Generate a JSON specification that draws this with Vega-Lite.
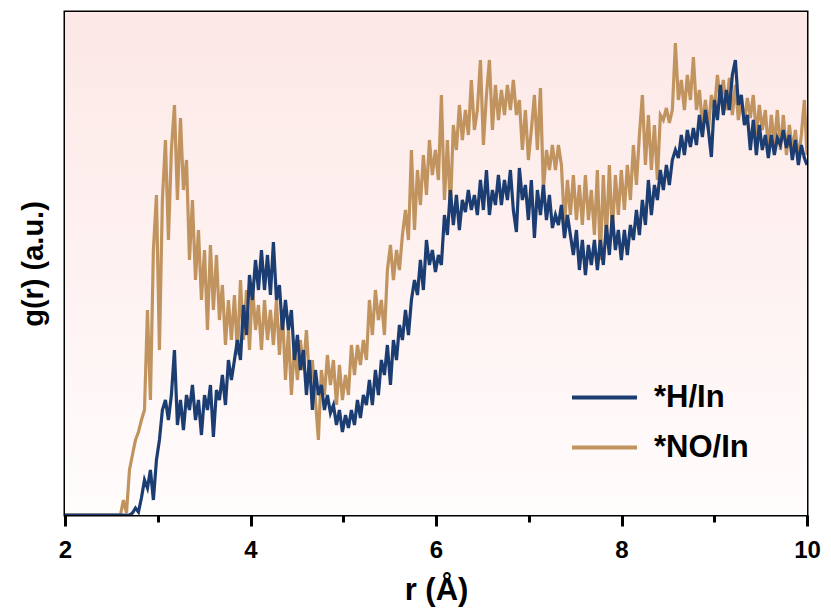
{
"$schema": "https://vega.github.io/schema/vega-lite/v6.json",
"autosize": "none",
"width": 742,
"height": 503,
"padding": {"left": 65, "top": 12, "right": 24, "bottom": 99},
"background": "white",
"config": {"view": {"stroke": "black", "strokeWidth": 3}, "font": "Liberation Sans"},
"data": {"values": [
{"r":2.0,"h":0,"n":0},
{"r":2.598,"h":0,"n":0},{"r":2.630,"h":0,"n":15},{"r":2.663,"h":0,"n":2},{"r":2.695,"h":0,"n":45},{"r":2.727,"h":2,"n":60},{"r":2.760,"h":7,"n":75},{"r":2.792,"h":3,"n":83},{"r":2.824,"h":17,"n":95},{"r":2.857,"h":35,"n":105},{"r":2.889,"h":27,"n":205},
{"r":2.921,"h":45,"n":115},{"r":2.953,"h":15,"n":265},{"r":2.986,"h":55,"n":320},{"r":3.018,"h":75,"n":165},{"r":3.050,"h":105,"n":315},{"r":3.083,"h":115,"n":375},{"r":3.115,"h":95,"n":275},{"r":3.147,"h":120,"n":365},{"r":3.180,"h":165,"n":410},{"r":3.212,"h":90,"n":315},
{"r":3.245,"h":115,"n":397},{"r":3.277,"h":85,"n":325},{"r":3.310,"h":120,"n":355},{"r":3.342,"h":105,"n":255},{"r":3.374,"h":130,"n":315},{"r":3.407,"h":95,"n":235},{"r":3.439,"h":115,"n":285},{"r":3.471,"h":80,"n":215},{"r":3.504,"h":120,"n":265},{"r":3.536,"h":105,"n":185},
{"r":3.568,"h":130,"n":270},{"r":3.600,"h":78,"n":205},{"r":3.633,"h":125,"n":260},{"r":3.665,"h":115,"n":195},{"r":3.697,"h":140,"n":230},{"r":3.730,"h":110,"n":170},{"r":3.762,"h":155,"n":215},{"r":3.794,"h":135,"n":175},{"r":3.827,"h":155,"n":220},{"r":3.859,"h":175,"n":160},
{"r":3.892,"h":155,"n":235},{"r":3.924,"h":210,"n":175},{"r":3.957,"h":180,"n":225},{"r":3.989,"h":240,"n":165},{"r":4.021,"h":215,"n":230},{"r":4.054,"h":255,"n":185},{"r":4.086,"h":225,"n":210},{"r":4.118,"h":265,"n":165},{"r":4.151,"h":225,"n":215},{"r":4.183,"h":260,"n":175},
{"r":4.215,"h":220,"n":205},{"r":4.247,"h":273,"n":170},{"r":4.280,"h":215,"n":215},{"r":4.312,"h":230,"n":160},{"r":4.344,"h":185,"n":205},{"r":4.377,"h":215,"n":135},{"r":4.409,"h":185,"n":185},{"r":4.441,"h":205,"n":120},{"r":4.474,"h":155,"n":170},{"r":4.506,"h":180,"n":135},
{"r":4.538,"h":145,"n":175},{"r":4.570,"h":165,"n":145},{"r":4.603,"h":120,"n":185},{"r":4.635,"h":155,"n":135},{"r":4.667,"h":105,"n":155},{"r":4.700,"h":145,"n":115},{"r":4.732,"h":120,"n":75},{"r":4.764,"h":130,"n":145},{"r":4.797,"h":105,"n":120},{"r":4.829,"h":120,"n":160},
{"r":4.862,"h":102,"n":130},{"r":4.894,"h":110,"n":155},{"r":4.927,"h":90,"n":110},{"r":4.959,"h":105,"n":150},{"r":4.991,"h":83,"n":115},{"r":5.024,"h":100,"n":140},{"r":5.056,"h":87,"n":120},{"r":5.088,"h":105,"n":170},{"r":5.121,"h":90,"n":140},{"r":5.153,"h":115,"n":170},
{"r":5.185,"h":97,"n":150},{"r":5.217,"h":120,"n":175},{"r":5.250,"h":110,"n":155},{"r":5.282,"h":135,"n":215},{"r":5.314,"h":110,"n":180},{"r":5.347,"h":145,"n":225},{"r":5.379,"h":120,"n":195},{"r":5.411,"h":155,"n":215},{"r":5.444,"h":140,"n":180},{"r":5.476,"h":170,"n":245},
{"r":5.509,"h":130,"n":270},{"r":5.541,"h":175,"n":235},{"r":5.574,"h":155,"n":265},{"r":5.606,"h":190,"n":245},{"r":5.638,"h":175,"n":280},{"r":5.671,"h":205,"n":305},{"r":5.703,"h":180,"n":275},{"r":5.735,"h":215,"n":365},{"r":5.768,"h":235,"n":285},{"r":5.800,"h":220,"n":345},
{"r":5.832,"h":255,"n":310},{"r":5.864,"h":225,"n":360},{"r":5.897,"h":275,"n":320},{"r":5.929,"h":250,"n":375},{"r":5.961,"h":265,"n":340},{"r":5.994,"h":243,"n":365},{"r":6.026,"h":260,"n":335},{"r":6.058,"h":250,"n":420},{"r":6.091,"h":300,"n":315},{"r":6.123,"h":280,"n":375},
{"r":6.155,"h":325,"n":305},{"r":6.187,"h":290,"n":390},{"r":6.220,"h":320,"n":365},{"r":6.252,"h":285,"n":410},{"r":6.284,"h":315,"n":375},{"r":6.317,"h":303,"n":405},{"r":6.349,"h":325,"n":380},{"r":6.381,"h":305,"n":435},{"r":6.414,"h":320,"n":385},{"r":6.446,"h":300,"n":405},
{"r":6.479,"h":335,"n":455},{"r":6.511,"h":305,"n":370},{"r":6.544,"h":345,"n":420},{"r":6.576,"h":300,"n":455},{"r":6.608,"h":325,"n":385},{"r":6.641,"h":310,"n":430},{"r":6.673,"h":340,"n":395},{"r":6.705,"h":310,"n":425},{"r":6.738,"h":335,"n":400},{"r":6.770,"h":315,"n":430},
{"r":6.802,"h":345,"n":405},{"r":6.834,"h":305,"n":435},{"r":6.867,"h":283,"n":400},{"r":6.899,"h":347,"n":415},{"r":6.931,"h":315,"n":365},{"r":6.964,"h":330,"n":405},{"r":6.996,"h":295,"n":355},{"r":7.028,"h":335,"n":385},{"r":7.061,"h":277,"n":420},{"r":7.093,"h":325,"n":365},
{"r":7.126,"h":300,"n":427},{"r":7.158,"h":330,"n":325},{"r":7.191,"h":295,"n":365},{"r":7.223,"h":320,"n":345},{"r":7.255,"h":287,"n":370},{"r":7.288,"h":300,"n":345},{"r":7.320,"h":290,"n":370},{"r":7.352,"h":310,"n":350},{"r":7.385,"h":277,"n":290},{"r":7.417,"h":300,"n":335},
{"r":7.449,"h":280,"n":300},{"r":7.481,"h":260,"n":340},{"r":7.514,"h":285,"n":295},{"r":7.546,"h":245,"n":330},{"r":7.578,"h":275,"n":290},{"r":7.611,"h":240,"n":340},{"r":7.643,"h":270,"n":295},{"r":7.675,"h":250,"n":325},{"r":7.708,"h":275,"n":280},{"r":7.740,"h":245,"n":345},
{"r":7.772,"h":275,"n":255},{"r":7.804,"h":250,"n":340},{"r":7.837,"h":290,"n":275},{"r":7.869,"h":260,"n":350},{"r":7.901,"h":300,"n":280},{"r":7.934,"h":265,"n":340},{"r":7.966,"h":285,"n":300},{"r":7.998,"h":255,"n":345},{"r":8.031,"h":285,"n":305},{"r":8.063,"h":260,"n":350},
{"r":8.096,"h":290,"n":315},{"r":8.128,"h":275,"n":370},{"r":8.161,"h":305,"n":330},{"r":8.193,"h":280,"n":380},{"r":8.225,"h":315,"n":420},{"r":8.258,"h":290,"n":350},{"r":8.290,"h":335,"n":400},{"r":8.322,"h":300,"n":345},{"r":8.355,"h":330,"n":390},{"r":8.387,"h":315,"n":335},
{"r":8.419,"h":345,"n":400},{"r":8.451,"h":325,"n":395},{"r":8.484,"h":350,"n":407},{"r":8.516,"h":330,"n":392},{"r":8.548,"h":355,"n":405},{"r":8.581,"h":365,"n":472},{"r":8.613,"h":357,"n":415},{"r":8.645,"h":380,"n":435},{"r":8.678,"h":360,"n":405},{"r":8.710,"h":385,"n":440},
{"r":8.743,"h":368,"n":415},{"r":8.775,"h":387,"n":458},{"r":8.808,"h":370,"n":405},{"r":8.840,"h":400,"n":425},{"r":8.872,"h":378,"n":390},{"r":8.905,"h":405,"n":415},{"r":8.937,"h":385,"n":385},{"r":8.969,"h":358,"n":420},{"r":9.002,"h":415,"n":405},{"r":9.034,"h":395,"n":440},
{"r":9.066,"h":430,"n":415},{"r":9.098,"h":400,"n":435},{"r":9.131,"h":425,"n":405},{"r":9.163,"h":405,"n":437},{"r":9.195,"h":440,"n":400},{"r":9.228,"h":455,"n":430},{"r":9.260,"h":410,"n":395},{"r":9.292,"h":420,"n":415},{"r":9.325,"h":390,"n":393},{"r":9.357,"h":400,"n":417},
{"r":9.389,"h":365,"n":397},{"r":9.421,"h":395,"n":420},{"r":9.454,"h":360,"n":380},{"r":9.486,"h":390,"n":410},{"r":9.518,"h":365,"n":385},{"r":9.551,"h":380,"n":405},{"r":9.583,"h":357,"n":365},{"r":9.615,"h":380,"n":400},{"r":9.648,"h":360,"n":370},{"r":9.680,"h":377,"n":405},
{"r":9.713,"h":370,"n":365},{"r":9.745,"h":385,"n":400},{"r":9.778,"h":367,"n":360},{"r":9.810,"h":380,"n":390},{"r":9.842,"h":355,"n":365},{"r":9.875,"h":375,"n":385},{"r":9.907,"h":350,"n":355},{"r":9.939,"h":370,"n":380},{"r":9.972,"h":357,"n":415},
{"r":10.0,"h":350,"n":360}
]},
"layer": [
  {
    "data": {"values": [{"a": 1}]},
    "mark": {"type": "rect", "fill": {"gradient": "linear", "x1": 0, "y1": 0, "x2": 0, "y2": 1, "stops": [{"offset": 0, "color": "#fce8e6"}, {"offset": 0.55, "color": "#fef3f2"}, {"offset": 1, "color": "#fffcfc"}]}},
    "encoding": {
      "x": {"datum": 2, "type": "quantitative"},
      "x2": {"datum": 10},
      "y": {"datum": 0, "type": "quantitative"},
      "y2": {"datum": 503}
    }
  },
  {
    "mark": {"type": "line", "strokeWidth": 3.2, "strokeJoin": "miter", "clip": true},
    "encoding": {
      "x": {"field": "r", "type": "quantitative"},
      "y": {"field": "n", "type": "quantitative"},
      "color": {"datum": "*NO/In", "type": "nominal"}
    }
  },
  {
    "mark": {"type": "line", "strokeWidth": 3.2, "strokeJoin": "miter", "clip": true},
    "encoding": {
      "x": {
        "field": "r", "type": "quantitative",
        "scale": {"domain": [2, 10], "nice": false, "zero": false},
        "axis": {
          "values": [2, 3, 4, 5, 6, 7, 8, 9, 10],
          "labelExpr": "datum.value % 2 == 0 ? format(datum.value, 'd') : ''",
          "labelFlush": false, "labelOverlap": false,
          "tickSize": {"condition": {"test": "datum.value % 2 == 1", "value": 7}, "value": 11},
          "tickWidth": 3, "tickColor": "black",
          "domain": false, "grid": false,
          "labelFontSize": 24, "labelFontWeight": "bold", "labelColor": "black", "labelPadding": 12, "labelFont": "Liberation Sans",
          "title": "r (Å)", "titleFontSize": 31, "titleFontWeight": "bold", "titleColor": "black", "titleFont": "Liberation Sans", "titlePadding": 13
        }
      },
      "y": {
        "field": "h", "type": "quantitative",
        "scale": {"domain": [0, 503], "nice": false},
        "axis": {
          "ticks": false, "labels": false, "domain": false, "grid": false,
          "title": "g(r) (a.u.)", "titleFontSize": 29, "titleFontWeight": "bold", "titleColor": "black", "titleFont": "Liberation Sans", "titlePadding": 17
        }
      },
      "color": {
        "datum": "*H/In", "type": "nominal",
        "scale": {"domain": ["*H/In", "*NO/In"], "range": ["#1c3d72", "#c1945f"]},
        "legend": {
          "title": null, "orient": "none", "legendX": 505, "legendY": 351, "padding": 0,
          "symbolType": "stroke", "symbolSize": 4225, "symbolStrokeWidth": 4,
          "labelFontSize": 31, "labelFontWeight": "bold", "labelColor": "black", "labelFont": "Liberation Sans",
          "labelOffset": 15, "rowPadding": -20
        }
      }
    }
  }
]
}
